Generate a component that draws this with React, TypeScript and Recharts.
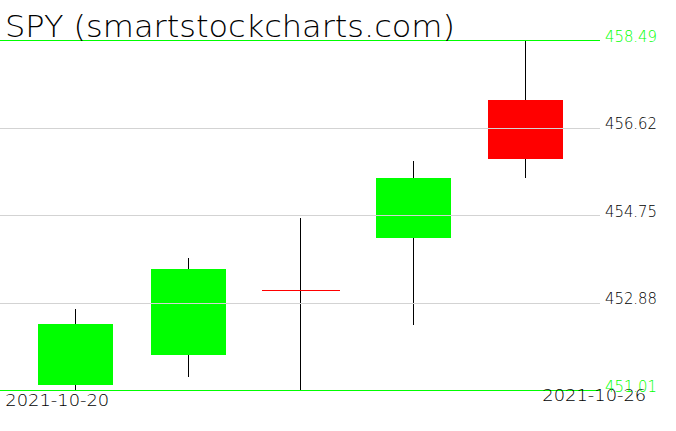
import { ComposedChart, Bar, XAxis, YAxis, ReferenceLine } from 'recharts'

const dates = ['2021-10-20', '2021-10-21', '2021-10-22', '2021-10-25', '2021-10-26']
const opens = [451.13, 451.77, 453.14, 454.27, 457.22]
const highs = [452.75, 453.84, 454.7, 455.91, 458.49]
const lows = [451.03, 451.3, 451.01, 452.4, 455.56]
const closes = [452.43, 453.61, 453.14, 455.55, 455.96]
const priceTicks = [451.01, 452.88, 454.75, 456.62, 458.49]
const dateTicks = ['2021-10-20', '2021-10-26']

const data = dates.map((d, i) => ({
  date: d,
  open: opens[i],
  high: highs[i],
  low: lows[i],
  close: closes[i],
  range: [lows[i], highs[i]],
}))

const UP = '#00ff00'
const DOWN = '#ff0000'
const FONT = '"DejaVu Sans", "Liberation Sans", sans-serif'

// wick first, then body on top; flat candles become a thin red dash
const Candle = (props: any) => {
  const { x, y, width, height, payload } = props
  const top = Math.min(y, y + height)
  const h = Math.abs(height)
  const k = h / (payload.high - payload.low)
  const yOf = (v: number) => top + (payload.high - v) * k
  const cx = Math.floor(x + width / 2) + 0.5
  const up = payload.close > payload.open
  const bTop = yOf(Math.max(payload.open, payload.close))
  const bBot = yOf(Math.min(payload.open, payload.close))
  const left = Math.round(x)
  return (
    <g>
      <line x1={cx} x2={cx} y1={top} y2={top + h} stroke="#000" strokeWidth={1} shapeRendering="crispEdges" />
      {bBot - bTop < 1 ? (
        <line x1={left - 1} x2={left + width + 2} y1={Math.floor(bTop) + 0.5} y2={Math.floor(bTop) + 0.5} stroke={DOWN} strokeWidth={1} shapeRendering="crispEdges" />
      ) : (
        <rect x={left} y={bTop} width={width} height={bBot - bTop} fill={up ? UP : DOWN} shapeRendering="crispEdges" />
      )}
    </g>
  )
}

const PriceTick = (props: any) => {
  const { x, y, payload } = props
  const v = payload.value
  const edge = v === priceTicks[0] || v === priceTicks[priceTicks.length - 1]
  return (
    <text x={x} y={y + 1} fill={edge ? UP : '#000'} fontFamily={FONT} fontSize={16} fontWeight={200}
      textAnchor="start" textLength={52} lengthAdjust="spacingAndGlyphs">
      {v.toFixed(2)}
    </text>
  )
}

const DateTick = (props: any) => {
  const { x, payload } = props
  const first = payload.value === dateTicks[0]
  return (
    <text x={first ? x - 70 : x + 121} y={first ? 406 : 401} fill="#000" fontFamily={FONT} fontSize={16}
      fontWeight={200} textAnchor={first ? 'start' : 'end'} textLength={104} lengthAdjust="spacingAndGlyphs">
      {payload.value}
    </text>
  )
}

export default function App() {
  return (
    <div style={{ position: 'absolute', left: 0, top: 0, width: 676, height: 431, background: '#fff' }}>
      <ComposedChart width={676} height={431} data={data} margin={{ top: 40.5, right: 0, left: 0, bottom: 0 }}>
        <XAxis dataKey="date" ticks={dateTicks} interval={0} axisLine={false} tickLine={false} tickSize={0}
          height={40.5} padding={{ left: 19, right: 18.5 }} tick={<DateTick />} />
        <YAxis orientation="right" type="number" domain={[451.01, 458.49]} ticks={priceTicks} width={76}
          axisLine={false} tickLine={false} tickSize={0} tickMargin={5} tick={<PriceTick />} allowDataOverflow />
        <Bar dataKey="range" barSize={75} shape={<Candle />} isAnimationActive={false} />
        {priceTicks.map((v, i) => (
          <ReferenceLine key={v} y={v} ifOverflow="visible" shapeRendering="crispEdges"
            stroke={i === 0 || i === priceTicks.length - 1 ? UP : '#d3d3d3'} strokeWidth={1} />
        ))}
      </ComposedChart>
      <svg width={676} height={60} style={{ position: 'absolute', left: 0, top: 0, pointerEvents: 'none' }}>
        <text x={5} y={37} fontFamily={FONT} fontSize={30} fontWeight={200} fill="#000"
          textLength={450} lengthAdjust="spacingAndGlyphs">
          SPY (smartstockcharts.com)
        </text>
      </svg>
    </div>
  )
}
